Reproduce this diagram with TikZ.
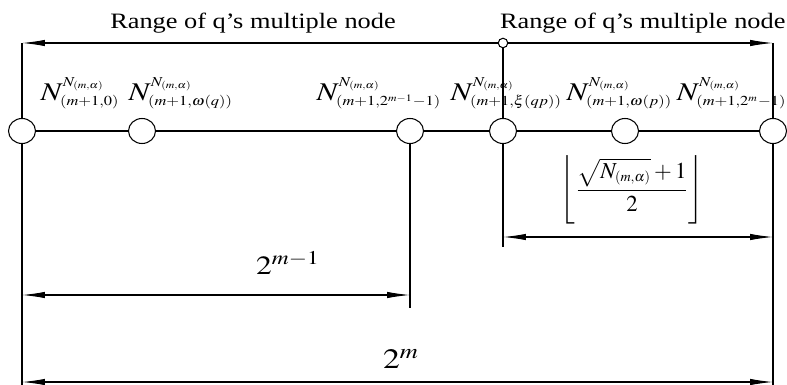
\documentclass[tikz,border=0pt]{standalone}
\usepackage{amsmath}
\usepackage{graphicx}
\usepackage{mathptmx}
\usepackage[no-math]{fontspec}
\setmainfont{Liberation Serif}
\usetikzlibrary{arrows.meta,shapes.geometric}
\DeclareMathSizes{13}{13}{8}{6}
\DeclareMathSizes{14.5}{14.5}{7.8}{5.6}
\newcommand{\wide}[1]{\scalebox{1.2}[1]{#1}}

\begin{document}
\begin{tikzpicture}[
  x=0.02cm, y=-0.02cm,
  line width=0.6pt,
  cell/.style={draw, ellipse, fill=white, minimum width=0.54cm, minimum height=0.5cm, inner sep=0pt},
  hub/.style={draw, circle, fill=white, minimum size=0.19cm, inner sep=0pt},
  lbl/.style={font=\fontsize{14.5}{17}\selectfont, inner sep=0pt, anchor=base west},
  txt/.style={font=\fontsize{12.5}{15}\selectfont, inner sep=0pt, anchor=base},
  dim/.style={{Latex[length=13pt,width=3.6pt]}-{Latex[length=13pt,width=3.6pt]}},
  arr/.style={-{Latex[length=13pt,width=3.6pt]}}
]
\useasboundingbox (0,0) rectangle (787,385);

%--------------------------------------------------
% nodes on the main line
%--------------------------------------------------
\node[cell] (c0) at (22,131) {};
\node[cell] (c1) at (142,131) {};
\node[cell] (c2) at (410,131) {};
\node[cell] (c3) at (503,131) {};
\node[cell] (c4) at (625,131) {};
\node[cell] (c5) at (773,131) {};

\draw (c0) -- (c1) -- (c2) -- (c3) -- (c4) -- (c5);

% labels of the nodes
\node[lbl] (n0) at (40,100) {\wide{$N^{N_{(m,\alpha)}}_{(m+1,0)}$}};
\node[lbl] (n1) at (128,100) {\wide{$N^{N_{(m,\alpha)}}_{(m+1,\omega(q))}$}};
\node[lbl] (n2) at (316,100) {\wide{$N^{N_{(m,\alpha)}}_{(m+1,2^{m-1}-1)}$}};
\node[lbl] (n3) at (450,100) {\wide{$N^{N_{(m,\alpha)}}_{(m+1,\xi(qp))}$}};
\node[lbl] (n4) at (566,100) {\wide{$N^{N_{(m,\alpha)}}_{(m+1,\omega(p))}$}};
\node[lbl, anchor=base east] (n5) at (787,100) {\wide{$N^{N_{(m,\alpha)}}_{(m+1,2^m-1)}$}};

%--------------------------------------------------
% range of q's multiple node
%--------------------------------------------------
\node[hub] (hub) at (503,43) {};
\coordinate (lt) at (22,43);
\coordinate (rt) at (773,43);

\draw[arr] (hub) -- (lt);
\draw[arr] (hub) -- (rt);

\node[txt] (rl) at (253,29) {\wide{Range of q’s multiple node}};
\node[txt, anchor=base east] (rr) at (786,29) {\wide{Range of q’s multiple node}};

%--------------------------------------------------
% extension lines
%--------------------------------------------------
\coordinate (lb) at (22,385);
\coordinate (rb) at (773,385);
\coordinate (mb) at (503,247);
\coordinate (qb) at (410,308);

\draw (lt) -- (c0.north);
\draw (c0.south) -- (lb);
\draw (rt) -- (c5.north);
\draw (c5.south) -- (rb);
\draw (hub) -- (c3);
\draw (c3.south) -- (mb);
\draw (c2.south) -- (qb);

%--------------------------------------------------
% dimensions
%--------------------------------------------------
\coordinate (fa) at (503,237);
\coordinate (fb) at (773,237);
\coordinate (ha) at (22,295);
\coordinate (hb) at (410,295);
\coordinate (wa) at (22,382);
\coordinate (wb) at (773,382);

\draw[dim] (fa) -- (fb);
\draw[dim] (ha) -- (hb);
\draw[dim] (wa) -- (wb);

\node[font=\fontsize{13}{16}\selectfont, inner sep=0pt] (fr) at (632,190)
  {$\left\lfloor\dfrac{\sqrt{N_{(m,\alpha)}}+1}{2}\right\rfloor$};
\node[font=\fontsize{15}{17}\selectfont, inner sep=0pt] (half) at (288,263) {\wide{$2^{m-1}$}};
\node[font=\fontsize{16}{18}\selectfont, inner sep=0pt] (full) at (401,359) {\wide{$2^{m}$}};

\end{tikzpicture}
\end{document}
